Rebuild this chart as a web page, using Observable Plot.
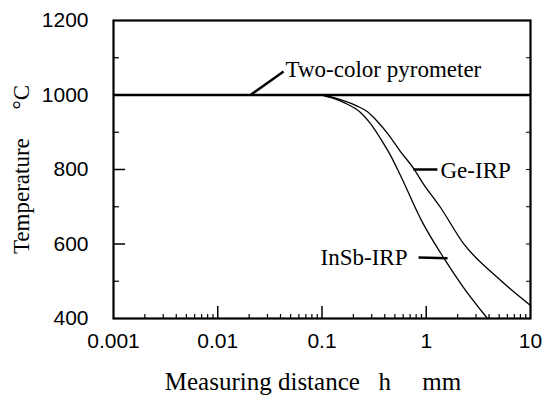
<!DOCTYPE html>
<html>
<head>
<meta charset="utf-8">
<script src="https://cdn.jsdelivr.net/npm/d3@7"></script>
<script src="https://cdn.jsdelivr.net/npm/@observablehq/plot@0.6"></script>
<style>
  html, body { margin: 0; padding: 0; background: #fff; }
</style>
</head>
<body>
<div id="chart"></div>
<script>
// ---- data ----
const xTicks = [0.001, 0.01, 0.1, 1, 10];
const xTickLabels = ["0.001", "0.01", "0.1", "1", "10"];
const yTicks = [400, 600, 800, 1000, 1200];
const yTickLabels = ["400", "600", "800", "1000", "1200"];
const yMinorTicks = [500, 700, 900, 1100];

const pyrometerTemp = 1000;

const geDist = [0.1, 0.125, 0.161, 0.215, 0.273, 0.33, 0.425, 0.566, 0.755, 0.92, 1.37, 2.28, 4.82, 10];
const geTemp = [1000, 994, 985, 971, 955, 933, 897, 848, 803, 765, 698, 601, 510, 435];

const insbDist = [0.1, 0.125, 0.161, 0.234, 0.292, 0.364, 0.454, 0.566, 0.92, 1.46, 2.28, 3.87];
const insbTemp = [1000, 992, 980, 953, 923, 883, 838, 784, 658, 564, 483, 400];

const labelTexts = ["Two-color pyrometer", "Ge-IRP", "InSb-IRP"];
const labelX = [0.0447, 1.37, 0.66];
const labelY = [1068, 797, 564];
const labelAnchor = ["start", "start", "end"];

const leaderX1 = [0.0206, 0.755, 0.843];
const leaderY1 = [1000, 800, 564];
const leaderX2 = [0.0428, 1.28, 1.6];
const leaderY2 = [1063, 800, 562];

const xTitle = "Measuring distance\u00a0\u00a0\u00a0h\u00a0\u00a0\u00a0\u00a0\u00a0mm";
const yTitle = "Temperature\u00a0\u00a0\u00a0\u00a0\u00a0\u00b0C";

// ---- build ----
const W = 545, H = 400;
const mL = 113, mR = 15, mT = 20, mB = 82;
const innerW = W - mL - mR, innerH = H - mT - mB;

const ge = geDist.map((d, i) => ({x: d, y: geTemp[i]}));
const insb = insbDist.map((d, i) => ({x: d, y: insbTemp[i]}));
const labels = labelTexts.map((t, i) => ({t, x: labelX[i], y: labelY[i], a: labelAnchor[i]}));
const leaders = leaderX1.map((d, i) => ({x1: d, y1: leaderY1[i], x2: leaderX2[i], y2: leaderY2[i]}));

const logScale = d3.scaleLog().domain([0.001, 10]);
const xAll = logScale.ticks();
const xMinor = xAll.filter(d => !xTicks.some(t => Math.abs(t - d) / t < 1e-9));

const serif = "Liberation Serif";
const textOpts = {x: "x", y: "y", text: "t", lineAnchor: "middle", fontFamily: serif, fontSize: 23, fill: "black"};

const chart = Plot.plot({
  width: W,
  height: H,
  marginLeft: mL,
  marginRight: mR,
  marginTop: mT,
  marginBottom: mB,
  style: {fontFamily: "Liberation Sans", fontSize: "21px", color: "black", background: "white"},
  x: {type: "log", domain: [0.001, 10]},
  y: {domain: [400, 1200]},
  marks: [
    Plot.axisX({ticks: xTicks, tickFormat: d => xTickLabels[xTicks.indexOf(d)], tickSize: 0, tickPadding: 15, label: null, fontSize: 21}),
    Plot.axisY({ticks: yTicks, tickFormat: d => yTickLabels[yTicks.indexOf(d)], tickSize: 0, tickPadding: 25, label: null, fontSize: 21}),
    // inner ticks
    Plot.ruleX(xTicks.slice(1, -1), {x: d => d, insetTop: innerH - 12, strokeWidth: 1.5}),
    Plot.ruleX(xMinor, {x: d => d, insetTop: innerH - 4, strokeWidth: 1.2}),
    Plot.ruleY(yTicks.slice(1, -1), {y: d => d, insetRight: innerW - 12, strokeWidth: 1.5}),
    Plot.ruleY(yMinorTicks, {y: d => d, insetRight: innerW - 6, strokeWidth: 1.2}),
    Plot.ruleY(yMinorTicks.concat(yTicks.slice(1, -1)), {y: d => d, insetLeft: innerW - 4, strokeWidth: 1}),
    Plot.frame({stroke: "black", strokeWidth: 2.2}),
    // two-color pyrometer
    Plot.ruleY([pyrometerTemp], {strokeWidth: 2.5}),
    // curves
    Plot.line(ge, {x: "x", y: "y", stroke: "black", strokeWidth: 1.3, curve: "monotone-x"}),
    Plot.line(insb, {x: "x", y: "y", stroke: "black", strokeWidth: 1.3, curve: "monotone-x"}),
    // leaders
    Plot.link(leaders, {x1: "x1", y1: "y1", x2: "x2", y2: "y2", stroke: "black", strokeWidth: 2.5}),
    // labels
    Plot.text(labels.filter(d => d.a === "start"), {...textOpts, textAnchor: "start"}),
    Plot.text(labels.filter(d => d.a === "end"), {...textOpts, textAnchor: "end"}),
    // axis titles
    Plot.text([xTitle], {frameAnchor: "bottom", textAnchor: "middle", dx: -9, dy: 63, lineAnchor: "middle", fontFamily: serif, fontSize: 25, fill: "black"}),
    Plot.text([yTitle], {frameAnchor: "left", textAnchor: "middle", dx: -92, dy: 0, rotate: -90, lineAnchor: "middle", fontFamily: serif, fontSize: 23, fill: "black"})
  ]
});

document.getElementById("chart").appendChild(chart);
</script>
</body>
</html>
